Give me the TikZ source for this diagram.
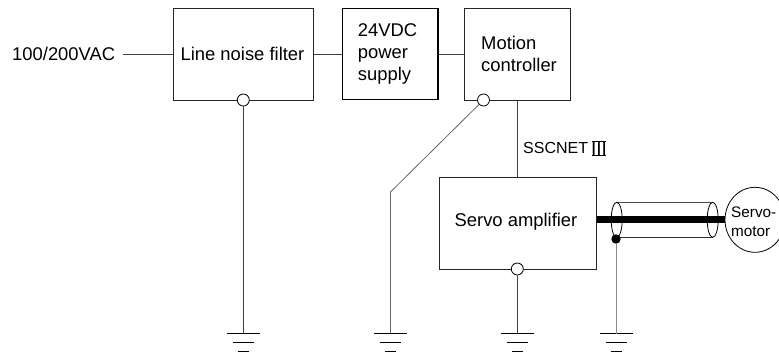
\documentclass[tikz,border=0pt]{standalone}
\usepackage{fontspec}
\usetikzlibrary{shapes.geometric}
\setmainfont{Liberation Sans}
\tikzset{
  x=1pt,y=-1pt,
  boxthin/.style={draw=black!85,line width=1pt,inner sep=0pt,anchor=north west},
  boxthick/.style={boxthin,draw=black,line width=1.4pt},
  lbl/.style={font=\fontsize{18.4pt}{22pt}\selectfont,align=left,inner sep=0pt},
  wire/.style={draw=black!75,line width=0.8pt},
  port/.style={circle,draw=black,fill=white,line width=0.8pt,minimum size=12pt,inner sep=0pt},
}
\newcommand{\gnd}[1]{%
  \draw[black,line width=1.2pt] ([xshift=-16.5pt]#1) -- ([xshift=16.5pt]#1);
  \draw[black,line width=1.2pt] ([xshift=-10.5pt,yshift=-9pt]#1) -- ([xshift=10.5pt,yshift=-9pt]#1);
  \draw[black,line width=1.2pt] ([xshift=-5.5pt,yshift=-18pt]#1) -- ([xshift=5.5pt,yshift=-18pt]#1);
}
\begin{document}
\begin{tikzpicture}
\useasboundingbox (0,0) rectangle (779,354);
\node[boxthin,minimum width=140.6pt,minimum height=92pt] (filter) at (172.7,8) {};
\node[boxthick,minimum width=95.6pt,minimum height=91pt] (power) at (341.7,8) {};
\node[boxthin,minimum width=105.7pt,minimum height=92pt] (ctrl) at (464.3,8) {};
\node[boxthin,minimum width=156.4pt,minimum height=91.7pt] (amp) at (439.3,177.4) {};
\node[lbl,anchor=west] (source) at (12,54) {100/200VAC};
\node[lbl] (filterText) at (242.5,54) {Line noise filter};
\node[lbl,anchor=west] (powerText) at (357.7,54) {24VDC\\power\\supply};
\node[lbl,anchor=west] (ctrlText) at (481,53.5) {Motion\\controller};
\node[lbl] (ampText) at (516,222) {Servo amplifier};
\node[font=\fontsize{16pt}{18pt}\selectfont,anchor=west,inner sep=0pt] (ssc) at (523,148) {SSCNET};
\node[font=\fontsize{19pt}{20pt}\selectfont,inner sep=0pt] (roman) at (599,148.7) {III};
\draw[black,line width=1pt] ([xshift=-7pt,yshift=7pt]roman.center) -- ([xshift=7pt,yshift=7pt]roman.center);
\draw[black,line width=1pt] ([xshift=-7pt,yshift=-7pt]roman.center) -- ([xshift=7pt,yshift=-7pt]roman.center);
\coordinate (g1) at (243.3,333.7);
\coordinate (g2) at (390.5,333.7);
\coordinate (g3) at (517.3,333.7);
\coordinate (g4) at (616,333.7);
\coordinate (bend) at (390.5,192);
\coordinate (srcEnd) at (123,54);
\coordinate (cL) at (616.7,219.8);
\coordinate (cR) at (712.7,219.8);
\coordinate (thick) at (600,219);
\coordinate (ctrlDrop) at (517.3,100);
\coordinate (ampTop) at (517.3,177.4);
\node[port] (pf) at (243.3,100) {};
\node[port] (pc) at (483.5,100) {};
\node[port] (pa) at (517.3,269) {};
\node[ellipse,draw=black,line width=0.8pt,minimum width=60pt,minimum height=65pt,inner sep=0pt] (motor) at (755,219.8) {};
\node[anchor=west,inner sep=0pt,font=\fontsize{15.3pt}{19pt}\selectfont,align=left] (motorText) at (731,221.5) {Servo-\\motor};
\draw[wire] (srcEnd) -- (srcEnd -| filter.west);
\draw[wire] (filter.east |- srcEnd) -- (power.west |- srcEnd);
\draw[wire] (power.east |- srcEnd) -- (ctrl.west |- srcEnd);
\draw[wire] (ctrlDrop) -- (ampTop);
\draw[wire] (pf) -- (g1);
\draw[wire,draw=black!60] (pc) -- (bend) -- (g2);
\draw[wire] (pa) -- (g3);
\gnd{g1}\gnd{g2}\gnd{g3}\gnd{g4}
% cable
\draw[black!70,line width=0.8pt] (616.7,202.5) -- (712.7,202.5);
\draw[black!80,line width=0.9pt] (616.7,237) -- (712.7,237);
\node[circle,fill=black,minimum size=9.4pt,inner sep=0pt] (dot) at (616,239) {};
\draw[wire,draw=black!45] (dot) -- (g4);
\draw[black,line width=7pt] (amp.east |- thick) -- (motor.west |- thick);
\draw[black,line width=0.8pt] (cL) ellipse[x radius=5.5,y radius=17.5];
\draw[black,line width=0.8pt] (cR) ellipse[x radius=5.5,y radius=17.5];
\end{tikzpicture}
\end{document}
